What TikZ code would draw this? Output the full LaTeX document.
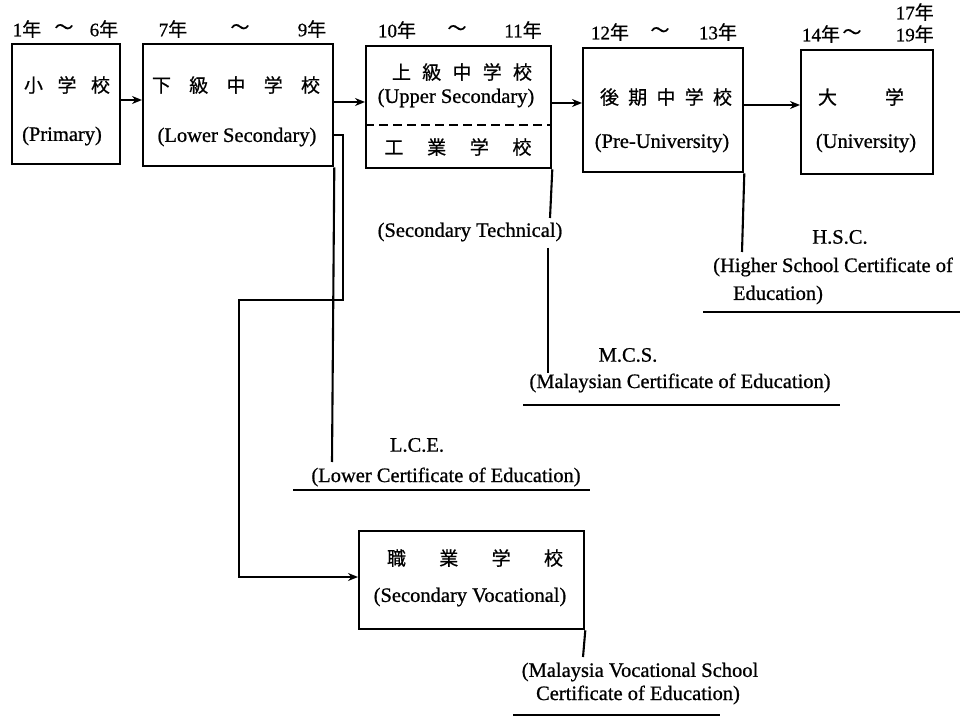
\documentclass[tikz,border=0pt]{standalone}
\usepackage{fontspec}
\setmainfont{Liberation Serif}[FakeBold=0.8]
\newfontfamily\jp{Noto Sans CJK JP}[FakeBold=0.6]
\usetikzlibrary{arrows.meta}

\begin{document}
\begin{tikzpicture}[x=1pt,y=-1pt,
  box/.style={draw, line width=2.3pt, anchor=north west, inner sep=0pt},
  lbl/.style={inner sep=0pt, font=\fontsize{20.5}{22}\selectfont},
  jlbl/.style={inner sep=0pt, font=\fontsize{19}{22}\selectfont\jp},
  yr/.style={inner sep=0pt, font=\fontsize{19}{20}\selectfont},
  wire/.style={line width=2.1pt},
  arr/.style={wire, -{Stealth[length=10pt,width=8pt]}},
  uline/.style={line width=2pt},
  sep/.style={line width=2pt, dash pattern=on 9pt off 5pt}]
\useasboundingbox (0,0) rectangle (969,719);

% school boxes
\node[box, minimum width=108pt, minimum height=120pt] (prim) at (11,43) {};
\node[box, minimum width=190pt, minimum height=122pt] (low) at (142,43) {};
\node[box, minimum width=185pt, minimum height=122pt] (up) at (365,45) {};
\node[box, minimum width=160pt, minimum height=124pt] (pre) at (582,47) {};
\node[box, minimum width=132pt, minimum height=124pt] (univ) at (800,49) {};
\node[box, minimum width=225pt, minimum height=98pt] (voc) at (358,530) {};

% divider between upper secondary and technical school
\coordinate (dsh) at (0,125);
\draw[sep] (up.west |- dsh) -- (up.east |- dsh);

% box texts
\node[jlbl] (primJ) at (67,85) {\makebox[86pt][s]{小\hfil 学\hfil 校}};
\node[lbl] (primE) at (62,136) {(Primary)};
\node[jlbl] (lowJ) at (236,85) {\makebox[168pt][s]{下\hfil 級\hfil 中\hfil 学\hfil 校}};
\node[lbl] (lowE) at (237,137) {(Lower Secondary)};
\node[jlbl] (upJ) at (462,72) {\makebox[140pt][s]{上\hfil 級\hfil 中\hfil 学\hfil 校}};
\node[lbl] (upE) at (456,98) {(Upper Secondary)};
\node[jlbl] (tecJ) at (458,147) {\makebox[147pt][s]{工\hfil 業\hfil 学\hfil 校}};
\node[jlbl] (preJ) at (666,97) {\makebox[132pt][s]{後\hfil 期\hfil 中\hfil 学\hfil 校}};
\node[lbl] (preE) at (662,143) {(Pre-University)};
\node[jlbl] (univJ) at (861,97) {\makebox[86pt][s]{大\hfil 学}};
\node[lbl] (univE) at (866,143) {(University)};
\node[jlbl] (vocJ) at (475,558) {\makebox[176pt][s]{職\hfil 業\hfil 学\hfil 校}};
\node[lbl] (vocE) at (470,597) {(Secondary Vocational)};

% year ranges
\node[yr] (y1a) at (27,29) {1{\jp 年}};
\node[yr] (y1t) at (64,29) {{\jp ～}};
\node[yr] (y1b) at (104,29) {6{\jp 年}};
\node[yr] (y2a) at (173,29) {7{\jp 年}};
\node[yr] (y2t) at (240,29) {{\jp ～}};
\node[yr] (y2b) at (312,29) {9{\jp 年}};
\node[yr] (y3a) at (397,30) {10{\jp 年}};
\node[yr] (y3t) at (457,30) {{\jp ～}};
\node[yr] (y3b) at (523,30) {11{\jp 年}};
\node[yr] (y4a) at (610,32) {12{\jp 年}};
\node[yr] (y4t) at (660,32) {{\jp ～}};
\node[yr] (y4b) at (718,32) {13{\jp 年}};
\node[yr] (y5a) at (821,34) {14{\jp 年}};
\node[yr] (y5t) at (852,34) {{\jp ～}};
\node[yr, anchor=east] (y5b) at (934,34) {19{\jp 年}};
\node[yr, anchor=east] (y6) at (934,12) {17{\jp 年}};

% main progression
\coordinate (r1) at (0,100);
\coordinate (r2) at (0,102);
\coordinate (r3) at (0,103);
\coordinate (r4) at (0,105);
\draw[arr] (prim.east |- r1) -- (low.west |- r1);
\draw[arr] (low.east |- r2) -- (up.west |- r2);
\draw[arr] (up.east |- r3) -- (pre.west |- r3);
\draw[arr] (pre.east |- r4) -- (univ.west |- r4);

% lower secondary: L.C.E.
\coordinate (lceEnd) at (332,462);
\draw[wire] (low.south east) -- (lceEnd);
\node[lbl] (lce) at (417,445) {L.C.E.};
\node[lbl] (lceF) at (446,477) {(Lower Certificate of Education)};
\draw[uline] (293,490) -- (590,490);

% lower secondary to vocational school
\coordinate (lpA) at (343,135);
\coordinate (lpB) at (343,300);
\coordinate (lpC) at (239,300);
\coordinate (lpD) at (239,577);
\draw[arr] (low.east |- lpA) -- (lpA) -- (lpB) -- (lpC) -- (lpD) -- (voc.west |- lpD);

% upper secondary / technical: M.C.S.
\node[lbl] (tech) at (470,232) {(Secondary Technical)};
\coordinate (techTop) at (550,218);
\coordinate (techBot) at (548,248);
\coordinate (mcsEnd) at (548,373);
\draw[wire] (up.south east) -- (techTop);
\draw[wire] (techBot) -- (mcsEnd);
\node[lbl] (mcs) at (628,355) {M.C.S.};
\node[lbl] (mcsF) at (680,383) {(Malaysian Certificate of Education)};
\draw[uline] (523,405) -- (840,405);

% pre-university: H.S.C.
\coordinate (hscEnd) at (742,252);
\draw[wire] (pre.south east) -- (hscEnd);
\node[lbl] (hsc) at (840,237) {H.S.C.};
\node[lbl] (hscF) at (833,267) {(Higher School Certificate of};
\node[lbl] (hscF2) at (778,295) {Education)};
\draw[uline] (703,312) -- (960,312);

% vocational certificate
\coordinate (mvsEnd) at (583,657);
\draw[wire] (voc.south east) -- (mvsEnd);
\node[lbl] (mvs) at (640,672) {(Malaysia Vocational School};
\node[lbl] (mvs2) at (638,695) {Certificate of Education)};
\draw[uline] (513,715) -- (720,715);
\end{tikzpicture}
\end{document}
